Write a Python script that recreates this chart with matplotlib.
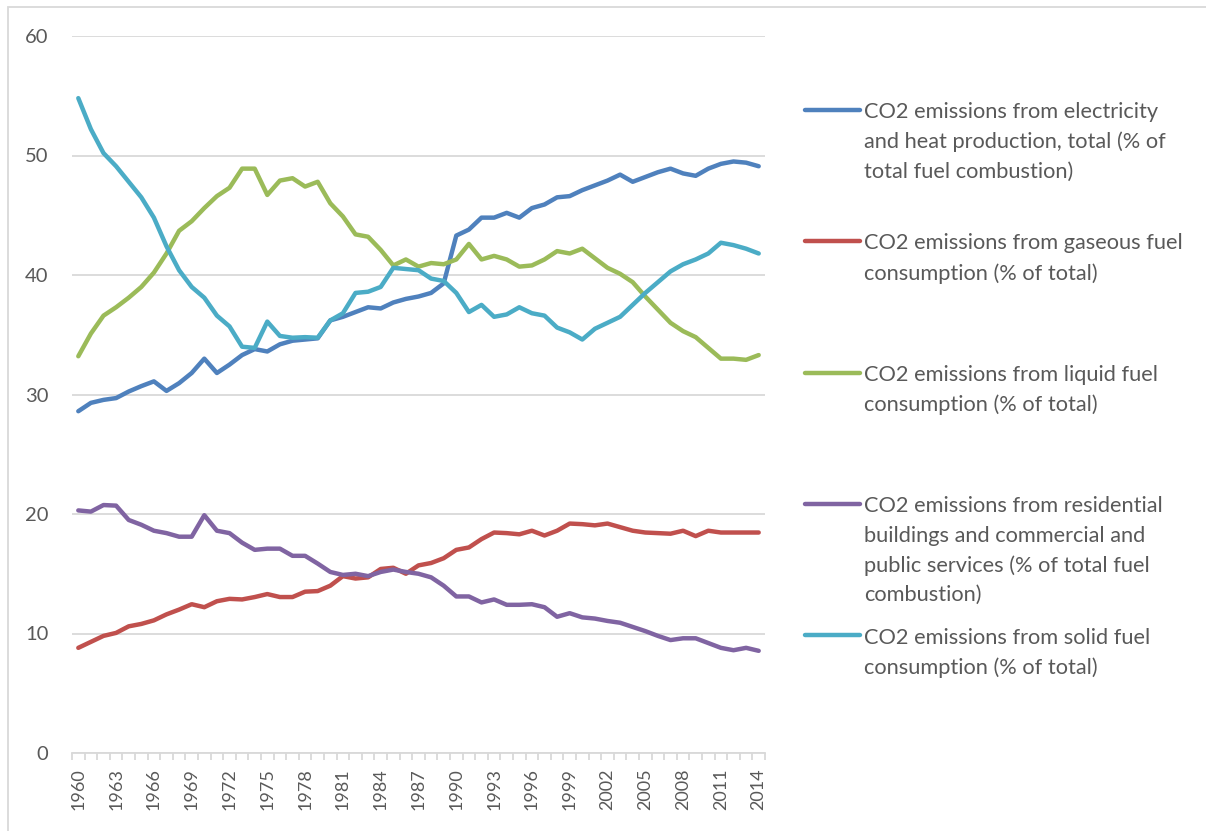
import matplotlib.pyplot as plt
from matplotlib.patches import Rectangle
from matplotlib.ticker import MultipleLocator, FixedLocator
import numpy as np

years = list(range(1960, 2015))

electricity = [28.6, 29.3, 29.55, 29.7, 30.25, 30.7, 31.1, 30.3, 30.95, 31.8,
               33.0, 31.8, 32.5, 33.3, 33.8, 33.6, 34.2, 34.5, 34.6, 34.7,
               36.2, 36.5, 36.9, 37.3, 37.2, 37.7, 38.0, 38.2, 38.5, 39.3,
               43.3, 43.8, 44.8, 44.8, 45.2, 44.8, 45.6, 45.9, 46.5, 46.6,
               47.1, 47.5, 47.9, 48.4, 47.8, 48.2, 48.6, 48.9, 48.5, 48.3,
               48.9, 49.3, 49.5, 49.4, 49.1]
gaseous = [8.8, 9.3, 9.8, 10.05, 10.6, 10.8, 11.1, 11.6, 12.0, 12.45,
           12.2, 12.7, 12.9, 12.85, 13.05, 13.3, 13.05, 13.05, 13.5, 13.55,
           14.0, 14.8, 14.6, 14.7, 15.4, 15.5, 15.0, 15.7, 15.9, 16.3,
           17.0, 17.2, 17.9, 18.45, 18.4, 18.3, 18.6, 18.2, 18.6, 19.2,
           19.15, 19.05, 19.2, 18.9, 18.6, 18.45, 18.4, 18.35, 18.6, 18.15,
           18.6, 18.45, 18.45, 18.45, 18.45]
liquid = [33.2, 35.1, 36.6, 37.3, 38.1, 39.0, 40.2, 41.8, 43.7, 44.5,
          45.6, 46.6, 47.3, 48.9, 48.9, 46.7, 47.9, 48.1, 47.4, 47.8,
          46.0, 44.9, 43.4, 43.2, 42.1, 40.8, 41.3, 40.7, 41.0, 40.9,
          41.3, 42.6, 41.3, 41.6, 41.3, 40.7, 40.8, 41.3, 42.0, 41.8,
          42.2, 41.4, 40.6, 40.1, 39.4, 38.2, 37.1, 36.0, 35.3, 34.8,
          33.9, 33.0, 33.0, 32.9, 33.3]
residential = [20.3, 20.2, 20.75, 20.7, 19.5, 19.1, 18.6, 18.4, 18.1, 18.1,
               19.9, 18.6, 18.4, 17.6, 17.0, 17.1, 17.1, 16.5, 16.5, 15.85,
               15.15, 14.9, 15.0, 14.8, 15.15, 15.35, 15.15, 15.0, 14.7, 14.0,
               13.1, 13.1, 12.6, 12.85, 12.4, 12.4, 12.45, 12.2, 11.4, 11.7,
               11.35, 11.25, 11.05, 10.9, 10.55, 10.2, 9.8, 9.45, 9.6, 9.6,
               9.2, 8.8, 8.6, 8.8, 8.55]
solid = [54.8, 52.2, 50.2, 49.1, 47.8, 46.5, 44.8, 42.4, 40.4, 39.0,
         38.1, 36.6, 35.7, 34.0, 33.9, 36.1, 34.9, 34.75, 34.8, 34.75,
         36.2, 36.8, 38.5, 38.6, 39.0, 40.6, 40.5, 40.4, 39.7, 39.5,
         38.5, 36.9, 37.5, 36.5, 36.7, 37.3, 36.8, 36.6, 35.6, 35.2,
         34.6, 35.5, 36.0, 36.5, 37.5, 38.5, 39.4, 40.3, 40.9, 41.3,
         41.8, 42.7, 42.5, 42.2, 41.8]

labels = [
    "CO2 emissions from electricity\nand heat production, total (% of\ntotal fuel combustion)",
    "CO2 emissions from gaseous fuel\nconsumption (% of total)",
    "CO2 emissions from liquid fuel\nconsumption (% of total)",
    "CO2 emissions from residential\nbuildings and commercial and\npublic services (% of total fuel\ncombustion)",
    "CO2 emissions from solid fuel\nconsumption (% of total)",
]
colors = ["#4F81BD", "#C0504D", "#9BBB59", "#8064A2", "#4BACC6"]
series = [electricity, gaseous, liquid, residential, solid]

plt.rcParams['font.family'] = ['Lato', 'DejaVu Sans']
text_col = "#595959"
grid_col = "#D9D9D9"

fig = plt.figure(figsize=(12.06, 8.31), dpi=100)
ax = fig.add_axes([72 / 1206, 78 / 831, 693 / 1206, 717 / 831])

handles = []
for vals, col in zip(series, colors):
    ln, = ax.plot(years, vals, color=col, lw=3.2, solid_capstyle='round',
                  solid_joinstyle='round')
    handles.append(ln)

ax.set_xlim(1959.5, 2014.5)
ax.set_ylim(0, 60)
ax.yaxis.set_major_locator(MultipleLocator(10))
ax.grid(axis='y', color=grid_col, lw=1.3)
ax.set_axisbelow(True)
for s in ['top', 'right', 'left']:
    ax.spines[s].set_visible(False)
ax.spines['bottom'].set_color(grid_col)
ax.spines['bottom'].set_linewidth(1.3)

# labels every 3rd year, tick marks between categories
ax.xaxis.set_major_locator(FixedLocator(years[::3]))
ax.xaxis.set_minor_locator(FixedLocator(np.arange(1959.5, 2015, 1)))
ax.tick_params(axis='x', which='major', length=0, pad=11, labelsize=13,
               labelcolor=text_col, labelrotation=90)
ax.tick_params(axis='x', which='minor', length=5, width=1.3, color=grid_col)
ax.tick_params(axis='y', length=0, pad=17, labelsize=14.5, labelcolor=text_col)

# pad every label to 4 lines so entries sit in equal slots
padded = [l + "\n" * (3 - l.count("\n")) for l in labels]
leg = fig.legend(handles, padded, loc='upper left',
                 bbox_to_anchor=(805 / 1206, 1 - 102 / 831), frameon=False,
                 fontsize=15.7, handlelength=2.5, handletextpad=0.2,
                 labelspacing=1.04, borderpad=0, borderaxespad=0)
for t in leg.get_texts():
    t.set_color(text_col)
    t.set_linespacing(1.58)
for col in leg._legend_handle_box.get_children():
    for hp in col.get_children():
        hp.align = 'top'

fig.add_artist(Rectangle((8 / 1206, -0.1), 1.2, 1.1 - 7 / 831,
                         transform=fig.transFigure, fill=False,
                         edgecolor=grid_col, lw=1.3))

fig.savefig("out.png", dpi=100)
